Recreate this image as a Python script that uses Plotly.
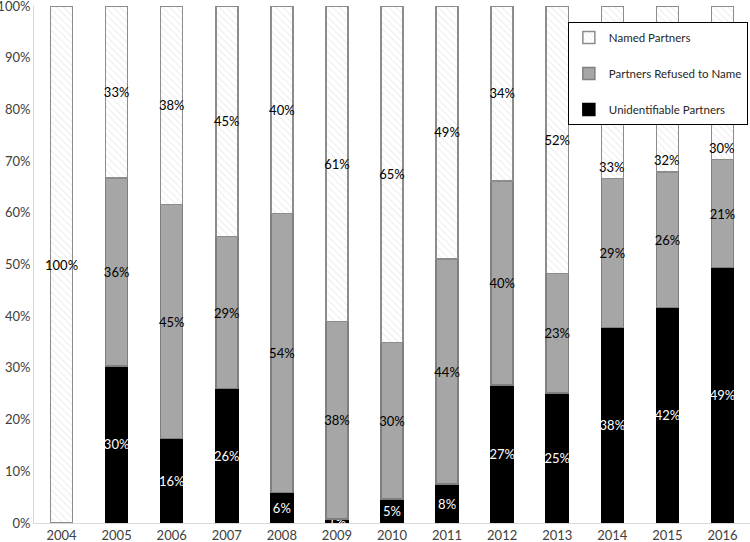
import plotly.graph_objects as go

years = ["2004", "2005", "2006", "2007", "2008", "2009", "2010", "2011", "2012", "2013", "2014", "2015", "2016"]
unidentifiable = [0, 30.4, 16.3, 26.0, 5.9, 0.8, 4.6, 7.5, 26.7, 25.1, 37.8, 41.7, 49.4]
refused = [0, 36.3, 45.3, 29.4, 54.0, 38.2, 30.3, 43.6, 39.5, 23.2, 28.8, 26.2, 20.9]
named = [100, 33.3, 38.4, 44.6, 40.1, 61.0, 65.1, 48.9, 33.8, 51.7, 33.4, 32.1, 29.7]
# years whose "Named" label sits just above the grey segment (to clear the legend)
named_label_low = ["2014", "2015", "2016"]
y_ticks = [0, 10, 20, 30, 40, 50, 60, 70, 80, 90, 100]
y_tick_labels = [f"{t}%" for t in y_ticks]

FONT = "Lato"


def labels(vals):
    return [f"{round(v)}%" if v > 0 else "" for v in vals]


named_text = [("" if y in named_label_low else t) for y, t in zip(years, labels(named))]

fig = go.Figure()
series = [
    ("Unidentifiable Partners", unidentifiable, labels(unidentifiable), "#000000", "#000000", "white", None, 3),
    ("Partners Refused to Name", refused, labels(refused), "#a6a6a6", "#7f7f7f", "black", None, 2),
    ("Named Partners", named, named_text, "#ffffff", "#8c8c8c", "black",
     dict(shape="\\", fgcolor="#d6d6d6", bgcolor="#ffffff", size=5, solidity=0.2), 1),
]
for i, (name, vals, txt, col, lcol, tcol, pat, rank) in enumerate(series):
    marker = dict(color=col, line=dict(color=lcol, width=1.5))
    if pat:
        marker["pattern"] = pat
    fig.add_trace(go.Bar(
        x=years, y=vals, name=name, marker=marker,
        text=txt, textposition="inside", insidetextanchor="middle",
        textangle=0, constraintext="none",
        insidetextfont=dict(family=FONT, size=13, color=tcol),
        legendgroup=f"g{i}", legendrank=rank, cliponaxis=False,
    ))

for idx, (yr, u, r, n) in enumerate(zip(years, unidentifiable, refused, named)):
    if yr in named_label_low:
        fig.add_annotation(x=idx, y=u + r, text=f"{round(n)}%", showarrow=False,
                           yanchor="middle", yshift=12,
                           font=dict(family=FONT, size=13, color="black"))

fig.update_layout(
    barmode="stack",
    bargap=0.6,
    width=750, height=542,
    margin=dict(l=34, r=0, t=6, b=19),
    plot_bgcolor="white", paper_bgcolor="white",
    font=dict(family=FONT, size=13, color="#404040"),
    showlegend=True,
    legend=dict(
        traceorder="grouped", tracegroupgap=17,
        x=0.997, y=0.969, xanchor="right", yanchor="top",
        bgcolor="white", bordercolor="#000000", borderwidth=1,
        itemwidth=30,
        font=dict(family=FONT, size=11.5, color="#262626"),
    ),
    xaxis=dict(type="category", range=[-0.5, len(years) - 0.5],
               showline=True, linecolor="#d9d9d9", linewidth=1, ticks="",
               showgrid=False, automargin=False, tickfont=dict(size=13, color="#404040")),
    yaxis=dict(range=[0, 100], tickvals=y_ticks, ticktext=y_tick_labels,
               showline=True, linecolor="#d9d9d9", linewidth=1, ticks="",
               showgrid=False, zeroline=False, automargin=False,
               ticklabeloverflow="allow",
               tickfont=dict(size=13, color="#404040")),
)

fig.write_html(
    "out.html",
    config={"displayModeBar": False},
    post_script="document.body.style.margin='0';document.body.style.overflow='hidden';",
)
